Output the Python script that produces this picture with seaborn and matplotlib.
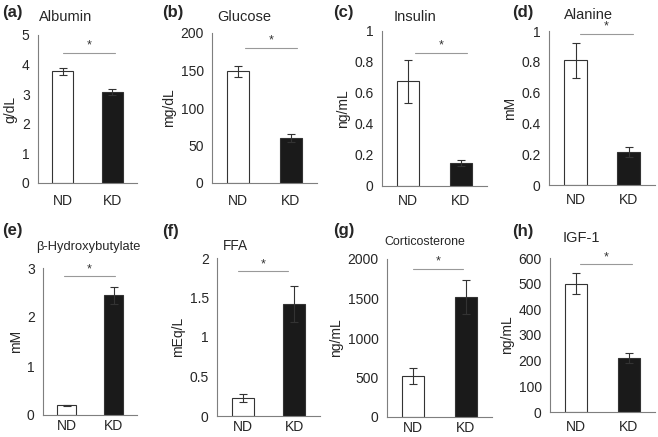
import pandas as pd
import matplotlib.pyplot as plt
import seaborn as sns

groups = ["ND", "KD"]
panels = ["(a)", "(b)", "(c)", "(d)", "(e)", "(f)", "(g)", "(h)"]
titles = ["Albumin", "Glucose", "Insulin", "Alanine",
          "β-Hydroxybutylate", "FFA", "Corticosterone", "IGF-1"]
units = ["g/dL", "mg/dL", "ng/mL", "mM", "mM", "mEq/L", "ng/mL", "ng/mL"]
nd_mean = [3.78, 149, 0.675, 0.81, 0.20, 0.23, 515, 500]
nd_err = [0.12, 7, 0.14, 0.115, 0.01, 0.05, 100, 42]
kd_mean = [3.07, 60, 0.15, 0.215, 2.44, 1.42, 1520, 210]
kd_err = [0.10, 5, 0.02, 0.03, 0.18, 0.23, 210, 20]
ymax = [5, 200, 1, 1, 3, 2, 2000, 600]
ystep = [1, 50, 0.2, 0.2, 1, 0.5, 500, 100]
sig_y = [4.4, 180, 0.86, 0.98, 2.83, 1.83, 1870, 575]
sig_x0 = [0.0, 0.13, 0.13, 0.08, -0.05, -0.09, 0.0, 0.07]
sig_x1 = [1.05, 1.12, 1.12, 1.08, 1.03, 0.88, 0.95, 1.07]

# axes boxes in pixels: left, right, top, bottom
boxes = [(38, 137, 35, 183), (212, 317, 33, 183), (382, 487, 31, 186), (549, 655, 31, 185),
         (43, 137, 268, 415), (217, 320, 258, 416), (387, 492, 259, 417), (550, 655, 258, 412)]
title_pos = [(0.28, 17), (0.31, 17), (0.31, 17), (0.37, 15),
             (0.48, 247), (0.18, 246), (0.36, 242), (0.30, 238)]
label_pos = [(2, 12), (162, 12), (333, 12), (512, 12),
             (2, 230), (162, 232), (333, 230), (512, 232)]
title_size = [10.5, 10.5, 10.5, 10.5, 9.3, 9.8, 8.9, 10.5]
xpad = [8, 8, 6, 6, 3, 3, 3, 6]

sns.set_style("white")
plt.rcParams['font.family'] = ['Liberation Sans', 'DejaVu Sans']

W, H = 658, 437
fig = plt.figure(figsize=(W / 100, H / 100), dpi=100)
axis_col = "#7f7f7f"

for i in range(8):
    l, r, t, b = boxes[i]
    ax = fig.add_axes([l / W, 1 - b / H, (r - l) / W, (b - t) / H])
    df = pd.DataFrame({"group": groups, "value": [nd_mean[i], kd_mean[i]]})
    sns.barplot(data=df, x="group", y="value", hue="group",
                palette={"ND": "white", "KD": "#1a1a1a"}, width=0.42,
                edgecolor="#333333", linewidth=0.8, errorbar=None, legend=False, ax=ax)
    ax.errorbar([0, 1], [nd_mean[i], kd_mean[i]], yerr=[nd_err[i], kd_err[i]],
                fmt="none", ecolor="#333333", elinewidth=0.8, capsize=3, capthick=0.8)
    ax.set_xlim(-0.5, 1.5)
    ax.set_ylim(0, ymax[i])
    n = int(round(ymax[i] / ystep[i]))
    yt = [k * ystep[i] for k in range(n + 1)]
    ax.set_yticks(yt)
    ax.set_yticklabels([("%g" % v) for v in yt])
    ax.set_xticks([0, 1])
    ax.set_xticklabels(groups)
    ax.set_xticks([-0.5, 0.5, 1.5], minor=True)
    ax.tick_params(axis="x", which="major", length=0, pad=xpad[i], labelsize=10)
    ax.tick_params(axis="x", which="minor", length=4, width=0.8, color=axis_col, direction="out")
    ax.tick_params(axis="y", length=4, width=0.8, color=axis_col, direction="out", labelsize=10, pad=2)
    sns.despine(ax=ax)
    for s in ["left", "bottom"]:
        ax.spines[s].set_color(axis_col)
        ax.spines[s].set_linewidth(0.8)
    ax.set_xlabel("")
    ax.set_ylabel(units[i], fontsize=10, labelpad=3)
    ax.plot([sig_x0[i], sig_x1[i]], [sig_y[i], sig_y[i]], color="#999999", lw=0.8, clip_on=False)
    ax.annotate("*", xy=((sig_x0[i] + sig_x1[i]) / 2, sig_y[i]), xytext=(0, 1),
                textcoords="offset points", ha="center", va="bottom",
                fontsize=9, color="#333333", annotation_clip=False)
    tx, ty = title_pos[i]
    fig.text((l + tx * (r - l)) / W, 1 - ty / H, titles[i], ha="center", va="center",
             fontsize=title_size[i])
    px, py = label_pos[i]
    fig.text(px / W, 1 - py / H, panels[i], ha="left", va="center", fontsize=12, fontweight="bold")

fig.savefig("out.png", dpi=100)
